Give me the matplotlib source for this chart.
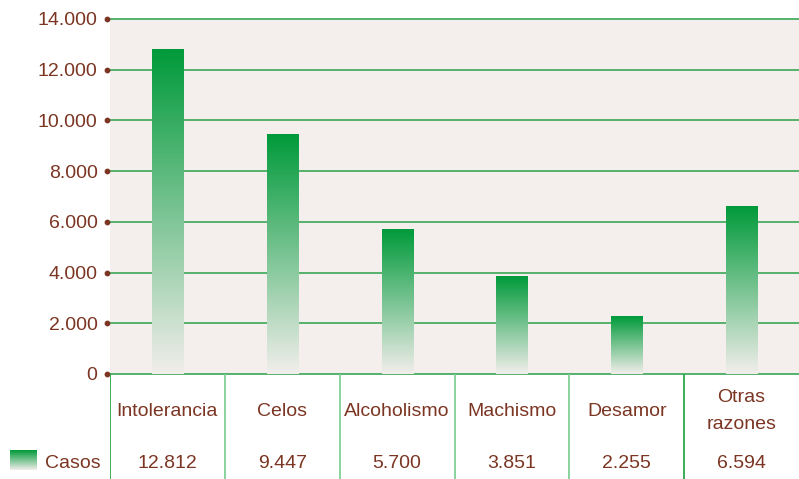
import matplotlib
matplotlib.use('Agg')
import matplotlib.pyplot as plt
from matplotlib.colors import LinearSegmentedColormap
import numpy as np

plt.rcParams['font.family'] = ['Liberation Sans Narrow', 'Liberation Sans', 'DejaVu Sans']

categories = ['Intolerancia', 'Celos', 'Alcoholismo', 'Machismo', 'Desamor', 'Otras\nrazones']
values = [12812, 9447, 5700, 3851, 2255, 6594]
value_labels = ['12.812', '9.447', '5.700', '3.851', '2.255', '6.594']
yticks = [0, 2000, 4000, 6000, 8000, 10000, 12000, 14000]
series_name = 'Casos'

BG = '#f4efec'
GREEN_TOP = '#009a3a'
GREEN_BOT = '#f2eeeb'
GRID = '#3aa655'
TEXT = '#7b3522'
FS = 14

W, H = 799, 479
fig = plt.figure(figsize=(W / 100, H / 100), dpi=100)
fig.patch.set_facecolor('white')

ax = fig.add_axes([110 / W, (H - 374) / H, 689 / W, 355 / H])
ax.set_facecolor(BG)
cmap = LinearSegmentedColormap.from_list('g', [GREEN_BOT, GREEN_TOP])
grad = np.linspace(0, 1, 256).reshape(-1, 1)

x = np.arange(len(categories))
bars = ax.bar(x, values, width=0.27, color='none', edgecolor='none', zorder=3)
for b in bars:
    ax.imshow(grad, cmap=cmap, origin='lower', aspect='auto', zorder=3,
              extent=[b.get_x(), b.get_x() + b.get_width(), 0, b.get_height()])

ax.set_xlim(-0.5, len(categories) - 0.5)
ax.set_ylim(0, 14000)
for t in yticks:
    ax.axhline(t, color=GRID, lw=1.2, zorder=2, clip_on=False)
for s in ax.spines.values():
    s.set_visible(False)
ax.set_xticks([])
ax.set_yticks(yticks)
ax.set_yticklabels([f'{t:,}'.replace(',', '.') for t in yticks], fontsize=FS, color=TEXT)
ax.tick_params(axis='y', length=0, pad=9)
ax.scatter(np.full(len(yticks), -0.005), yticks, s=10, color=TEXT,
           transform=ax.get_yaxis_transform(), clip_on=False, zorder=5)

# table below
tab = fig.add_axes([110 / W, 0, 689 / W, 105 / H])
tab.set_xlim(-0.5, len(categories) - 0.5)
tab.set_ylim(0, 105)
tab.axis('off')
for i in range(len(categories)):
    tab.axvline(i - 0.5, color='#2aa84a' if i in (0, 5) else '#7fcf95', lw=1.3)
for i, (c, v) in enumerate(zip(categories, value_labels)):
    tab.text(i, 68, c, ha='center', va='center',
             fontsize=FS, color=TEXT, linespacing=1.75)
    tab.text(i, 16, v, ha='center', va='center', fontsize=FS, color=TEXT)

# legend
leg = fig.add_axes([10 / W, (H - 470) / H, 27 / W, 20 / H])
leg.imshow(grad, cmap=cmap, origin='lower', aspect='auto')
leg.axis('off')
fig.text(45 / W, (H - 463) / H, series_name, ha='left', va='center', fontsize=FS, color=TEXT)

plt.savefig('out.png', dpi=100, facecolor='white')
plt.close()
